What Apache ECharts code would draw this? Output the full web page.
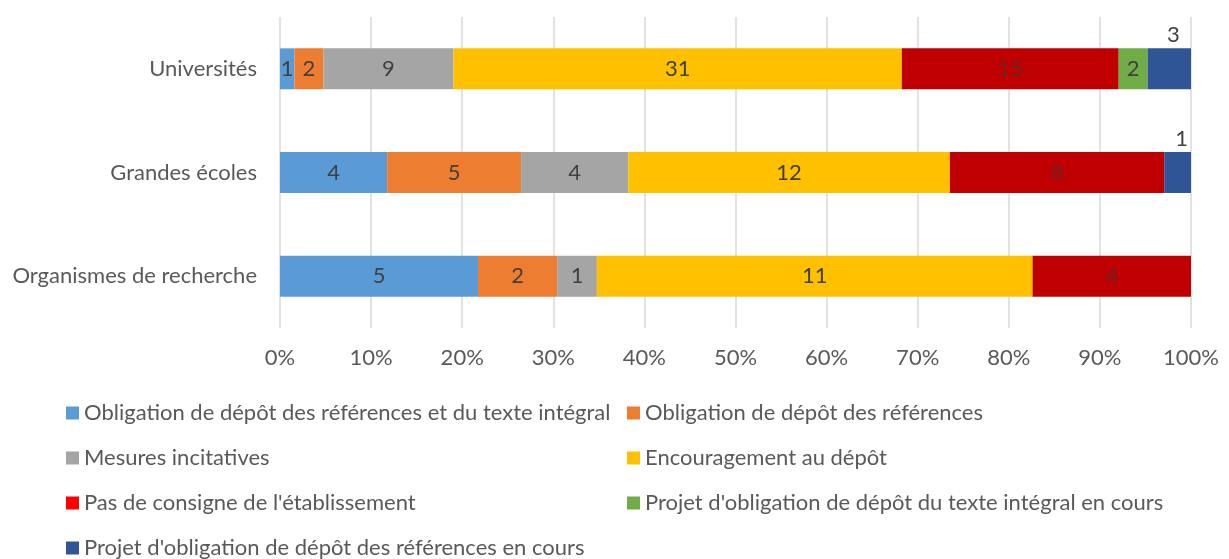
<!DOCTYPE html>
<html>
<head>
<meta charset="utf-8">
<script src="https://cdn.jsdelivr.net/npm/echarts@6/dist/echarts.min.js"></script>
<style>
  html, body { margin: 0; padding: 0; background: #fff; }
  #main { width: 1229px; height: 559px; }
</style>
</head>
<body>
<div id="main"></div>
<script>
/* données */
var categories = ['Universités', 'Grandes écoles', 'Organismes de recherche']
var seriesNames = [
  'Obligation de dépôt des références et du texte intégral',
  'Obligation de dépôt des références',
  'Mesures incitatives',
  'Encouragement au dépôt',
  "Pas de consigne de l'établissement",
  "Projet d'obligation de dépôt du texte intégral en cours",
  "Projet d'obligation de dépôt des références en cours"
]
var oblRefTexte = [1, 4, 5]
var oblRef = [2, 5, 2]
var mesuresIncit = [9, 4, 1]
var encouragement = [31, 12, 11]
var pasConsigne = [15, 8, 4]
var projetTexte = [2, null, null]
var projetRef = [3, 1, null]
var xTicks = [0, 10, 20, 30, 40, 50, 60, 70, 80, 90, 100]

var counts = [oblRefTexte, oblRef, mesuresIncit, encouragement, pasConsigne, projetTexte, projetRef]
var colors = ['#5B9BD5', '#ED7D31', '#A5A5A5', '#FFC000', '#C00000', '#70AD47', '#2F5597']
var legendColors = ['#5B9BD5', '#ED7D31', '#A5A5A5', '#FFC000', '#FF0000', '#70AD47', '#2F5597']

var FONT = 'Lato'
var FS = 22

var chart = echarts.init(document.getElementById('main'))

// totaux par catégorie -> 100 %
var totals = categories.map(function (c, i) {
  var s = 0
  counts.forEach(function (arr) { s += arr[i] || 0 })
  return s
})

var series = counts.map(function (arr, k) {
  var label = {
    show: true,
    position: 'inside',
    color: k === 4 ? '#6b2222' : '#404040',
    fontFamily: FONT,
    fontSize: FS,
    formatter: function (p) { return counts[p.seriesIndex][p.dataIndex] }
  }
  if (k === 6) {
    label.position = 'top'
    label.offset = [4, 3]
  }
  return {
    name: seriesNames[k],
    type: 'bar',
    stack: 'total',
    barWidth: 41,
    itemStyle: { color: colors[k] },
    label: label,
    data: arr.map(function (v, i) { return v == null ? null : v / totals[i] * 100 })
  }
})

// légende sur deux colonnes
var colX = [66, 627]
var rowY = [402, 447, 492, 537]
var legends = seriesNames.map(function (name, k) {
  return {
    left: colX[k % 2],
    top: rowY[Math.floor(k / 2)],
    padding: 0,
    icon: 'rect',
    itemWidth: 13,
    itemHeight: 13,
    selectedMode: false,
    textStyle: { color: '#595959', fontFamily: FONT, fontSize: FS },
    data: [{ name: name, itemStyle: { color: legendColors[k] } }]
  }
})

var options = {
  animation: false,
  textStyle: { fontFamily: FONT },
  grid: { left: 280, right: 38, top: 17, height: 311, containLabel: false },
  xAxis: {
    type: 'value',
    min: xTicks[0],
    max: xTicks[xTicks.length - 1],
    interval: 10,
    axisLine: { show: false },
    axisTick: { show: false },
    splitLine: { show: true, lineStyle: { color: '#D9D9D9', width: 1.5 } },
    axisLabel: {
      color: '#595959', fontFamily: FONT, fontSize: FS, margin: 19,
      formatter: '{value}%'
    }
  },
  yAxis: {
    type: 'category',
    inverse: true,
    data: categories,
    axisLine: { show: false },
    axisTick: { show: false },
    axisLabel: { color: '#595959', fontFamily: FONT, fontSize: FS, margin: 23 }
  },
  legend: legends,
  series: series
}
chart.setOption(options)
</script>
</body>
</html>
